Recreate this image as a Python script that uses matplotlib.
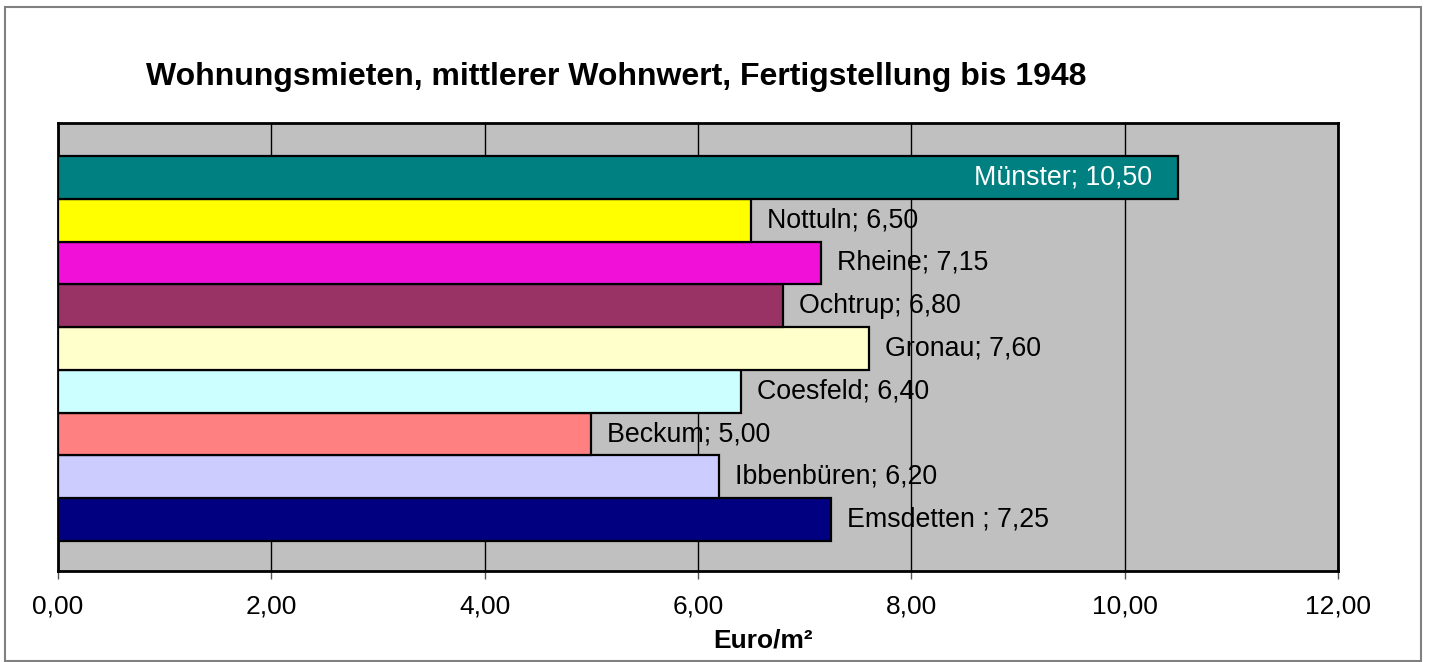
import matplotlib
matplotlib.use("Agg")
import matplotlib.pyplot as plt
from matplotlib.patches import Rectangle
from matplotlib.ticker import FuncFormatter

plt.rcParams['font.family'] = ['Liberation Sans', 'DejaVu Sans']

# bottom to top
cities = ["Emsdetten ", "Ibbenbüren", "Beckum", "Coesfeld", "Gronau",
          "Ochtrup", "Rheine", "Nottuln", "Münster"]
values = [7.25, 6.20, 5.00, 6.40, 7.60, 6.80, 7.15, 6.50, 10.50]
colors = ["#000080", "#CCCCFF", "#FF8080", "#CCFFFF", "#FFFFCC",
          "#993366", "#F010D8", "#FFFF00", "#008080"]

W, H = 1429, 662
fig = plt.figure(figsize=(W / 100, H / 100), dpi=100)
fig.patches.append(Rectangle((5 / W, 1 / H), 1416 / W, 654 / H, transform=fig.transFigure,
                             fill=False, edgecolor="#808080", linewidth=1.5))

ax = fig.add_axes([58 / W, 1 - 571 / H, 1280 / W, 448 / H])
ax.set_facecolor("#C0C0C0")

ypos = list(range(len(cities)))
ax.barh(ypos, values, height=1.0, color=colors, edgecolor="black", linewidth=1.6, zorder=3)

for y, name, v in zip(ypos, cities, values):
    label = "%s; %s" % (name, ("%.2f" % v).replace(".", ","))
    if v > 10:
        ax.annotate(label, (v, y), xytext=(-18.7, 0), textcoords="offset points",
                    ha="right", va="center", fontsize=19.3, color="white", zorder=4)
    else:
        ax.annotate(label, (v, y), xytext=(11.5, 0), textcoords="offset points",
                    ha="left", va="center", fontsize=19.3, color="black", zorder=4)

ax.set_xlim(0, 12)
ax.set_ylim(-1.2, 9.27)
ax.set_xticks(range(0, 13, 2))
ax.xaxis.set_major_formatter(FuncFormatter(lambda x, p: ("%.2f" % x).replace(".", ",")))
ax.set_yticks([])
ax.grid(axis="x", color="black", linewidth=1.0, zorder=1)
ax.tick_params(axis="x", length=6, width=1, color="#555555", labelsize=19, pad=11)
for s in ax.spines.values():
    s.set_linewidth(2)
    s.set_color("black")

fig.text(763 / W, 1 - 640 / H, "Euro/m²", fontsize=19, fontweight="bold",
         ha="center", va="center")
fig.text(146 / W, 1 - 77 / H, "Wohnungsmieten, mittlerer Wohnwert, Fertigstellung bis 1948",
         fontsize=23, fontweight="bold", ha="left", va="center")

fig.savefig("out.png", dpi=100)
